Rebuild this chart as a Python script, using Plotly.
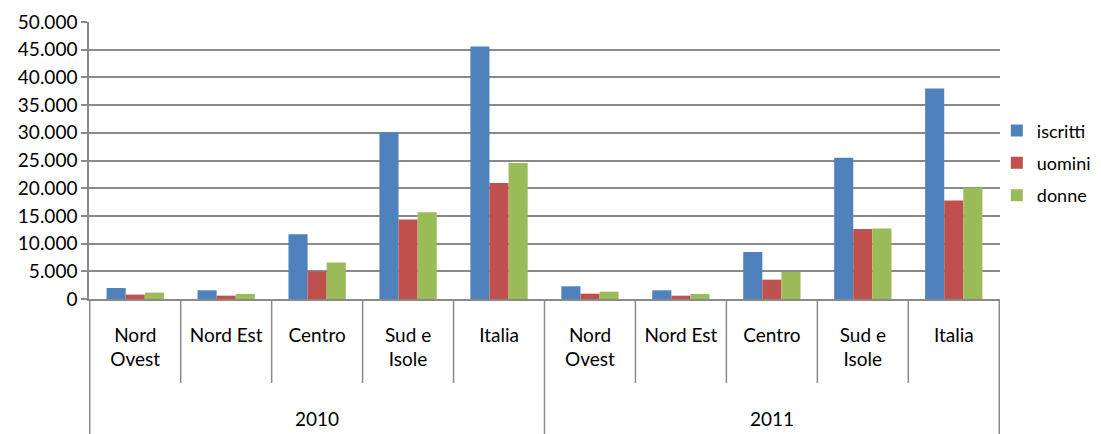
import plotly.graph_objects as go

years = ["2010", "2011"]
regions = ["Nord<br>Ovest", "Nord Est", "Centro", "Sud e<br>Isole", "Italia"]

iscritti = [1990, 1570, 11670, 30110, 45590,
            2290, 1570, 8490, 25480, 38010]
uomini = [790, 605, 4960, 14330, 20920,
          960, 600, 3490, 12650, 17770]
donne = [1150, 910, 6590, 15660, 24550,
         1320, 900, 4880, 12710, 20060]

series_names = ["iscritti", "uomini", "donne"]
series_colors = ["#4F81BD", "#C0504D", "#9BBB59"]
series_values = [iscritti, uomini, donne]

keys = [f"{y}|{r}" for y in years for r in regions]
labels = [r for y in years for r in regions]

FONT = "Lato"
GRID = "#8A8A8A"

fig = go.Figure()
for name, color, vals in zip(series_names, series_colors, series_values):
    fig.add_trace(go.Bar(
        x=keys, y=vals, name=name, legendgroup=name,
        marker=dict(color=color, line=dict(width=0)),
    ))

n = len(regions)
shapes = []
for i in range(len(keys) + 1):
    b = i - 0.5
    long_line = (i % n == 0)
    shapes.append(dict(
        type="line", xref="x", yref="paper",
        x0=b, x1=b, y0=0, y1=(-0.49 if long_line else -0.303),
        line=dict(color=GRID, width=1.5), layer="above",
    ))

annotations = []
for gi, y in enumerate(years):
    center = gi * n + (n - 1) / 2
    annotations.append(dict(
        x=center, xref="x", y=-0.43, yref="paper", text=y,
        showarrow=False, yanchor="middle", xanchor="center",
        font=dict(family=FONT, size=19, color="#000000"),
    ))

fig.update_layout(
    width=1093, height=426,
    margin=dict(l=81, r=101, t=14, b=135, autoexpand=False),
    paper_bgcolor="white", plot_bgcolor="white",
    separators=",.",
    barmode="group", bargap=0.37, bargroupgap=0,
    font=dict(family=FONT, size=19, color="#000000"),
    shapes=shapes, annotations=annotations,
    legend=dict(
        x=0.9965, xanchor="left", y=0.49, yanchor="middle",
        traceorder="grouped", tracegroupgap=6,
        font=dict(family=FONT, size=18, color="#000000"),
        itemwidth=30, bgcolor="rgba(0,0,0,0)",
    ),
    xaxis=dict(
        type="category", categoryorder="array", categoryarray=keys,
        tickmode="array", tickvals=keys, ticktext=labels,
        showline=True, linecolor=GRID, linewidth=1.5,
        ticks="", showgrid=False, ticklabelstandoff=18,
        automargin=False,
        tickfont=dict(family=FONT, size=19, color="#000000"),
    ),
    yaxis=dict(
        range=[0, 50000], dtick=5000, tickformat=",d",
        showline=True, linecolor=GRID, linewidth=1.5,
        showgrid=True, gridcolor=GRID, gridwidth=1.5,
        ticks="outside", ticklen=6, tickcolor=GRID, tickwidth=1.5,
        zeroline=False, automargin=False,
        tickfont=dict(family=FONT, size=19, color="#000000"),
    ),
)

fig.write_html("out.html")
